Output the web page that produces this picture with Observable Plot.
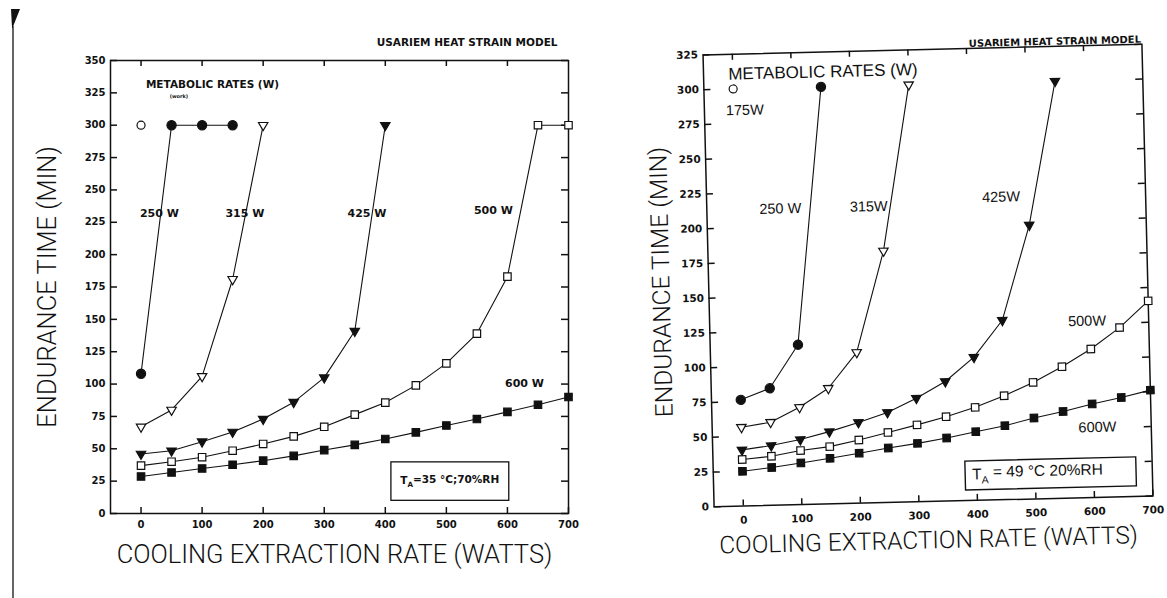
<!DOCTYPE html>
<html>
<head>
<meta charset="utf-8">
<script src="https://cdn.jsdelivr.net/npm/d3@7"></script>
<script src="https://cdn.jsdelivr.net/npm/@observablehq/plot@0.6"></script>
<style>
  html, body { margin: 0; padding: 0; background: #fff; }
  #wrap { position: relative; width: 1167px; height: 598px; overflow: hidden; background: #fff; }
  #left, #right { position: absolute; top: 0; }
  #left { left: 0; }
  #right { left: 590px; transform: rotate(-1.4deg); transform-origin: 338px 275px; }
  #edge { position: absolute; left: 12px; top: 26px; width: 1.5px; height: 572px; background: #666; }
  #wedge { position: absolute; left: 11px; top: 9px; width: 9px; height: 20px; background: #111;
           clip-path: polygon(0 0, 100% 0, 12% 100%); }
</style>
</head>
<body>
<div id="wrap">
  <div id="edge"></div><div id="wedge"></div>
  <div id="left"></div>
  <div id="right"></div>
</div>
<script>
// ---------------- DATA ----------------
const xCooling = [0, 50, 100, 150, 200, 250, 300, 350, 400, 450, 500, 550, 600, 650, 700];
const xTicks = [0, 100, 200, 300, 400, 500, 600, 700];
const xTopTicks = [0, 100, 200, 300, 400, 500, 600];
const yTicksLeft = [0, 25, 50, 75, 100, 125, 150, 175, 200, 225, 250, 275, 300, 325, 350];
const yTicksRight = [0, 25, 50, 75, 100, 125, 150, 175, 200, 225, 250, 275, 300, 325];

// Left panel: T_A = 35 °C; 70 %RH  (endurance time, min)
const left175x = [0];
const left175y = [300];
const left250x = [0, 50, 100, 150];
const left250y = [108, 300, 300, 300];
const left315x = [0, 50, 100, 150, 200];
const left315y = [67, 80, 106, 181, 300];
const left425x = [0, 50, 100, 150, 200, 250, 300, 350, 400];
const left425y = [46, 48.5, 55.5, 63, 73, 86, 105, 141, 300];
const left500x = xCooling;
const left500y = [37, 40, 43.5, 48.5, 53.7, 59.6, 67, 76.4, 85.7, 99, 116, 139, 183, 300, 300];
const left600x = xCooling;
const left600y = [28.6, 31.7, 34.8, 37.7, 40.8, 44.5, 49, 53, 57.6, 62.7, 68, 73, 78.5, 84, 90];

// Right panel: T_A = 49 °C 20 %RH
const right175x = [0];
const right175y = [300];
const right250x = [0, 50, 100, 150];
const right250y = [76.4, 84.2, 115, 300];
const right315x = [0, 50, 100, 150, 200, 250, 300];
const right315y = [56.7, 59.8, 70, 83.2, 108.5, 181, 300];
const right425x = [0, 50, 100, 150, 200, 250, 300, 350, 400, 450, 500, 550];
const right425y = [40.4, 43, 46.8, 52, 58.1, 64.8, 74.5, 86, 103, 129, 197, 300];
const right500x = xCooling;
const right500y = [33.5, 35.3, 38.9, 41.2, 45.5, 50.4, 55.3, 60.7, 66.9, 74.7, 83.8, 94.6, 106.8, 121.7, 140.4];
const right600x = xCooling;
const right600y = [25.0, 27.2, 30.0, 32.8, 36.0, 39.2, 42, 45.4, 49.4, 53.2, 58.2, 62.4, 67.3, 71.4, 76.2];

// Texts
const yTitle = "ENDURANCE TIME (MIN)";
const xTitle = "COOLING EXTRACTION RATE (WATTS)";
const modelTitle = "USARIEM HEAT STRAIN MODEL";
const legendTitle = "METABOLIC RATES (W)";
const leftSeriesLabels = ["250 W", "315 W", "425 W", "500 W", "600 W"];
const rightSeriesLabels = ["175W", "250 W", "315W", "425W", "500W", "600W"];
const leftCondition = ["T", "A", "=35 °C;70%RH"];
const rightCondition = ["T", "A", " = 49 °C 20%RH"];

// Annotation anchors (data units)
const leftLabelX = [30, 170, 370, 577, 628];
const leftLabelY = [232, 232, 232, 234, 100.6];
const rightLabelX = [19, 75.5, 226.6, 453, 594.7, 608];
const rightLabelY = [284.5, 213, 213, 217.6, 126.9, 50.4];
const leftBox = {x1: 410, x2: 603, y1: 9.8, y2: 39.5, tx: 424.6, ty: 25.3};
const rightBox = {x1: 381, x2: 673, y1: 7.3, y2: 28.1, tx: 392, ty: 18.6};
const leftHead = {legendX: 117, legendY: 331.6, workX: 62, workY: 322, modelX: 682, modelY: 363.5};
const rightHead = {legendX: 154, legendY: 310.7, modelX: 698.5, modelY: 328.4};

// ---------------- DRAWING ----------------
const INK = "#111";
const X_DOMAIN = [-50, 700];
const styles = {
  s175: {symbol: "circle", filled: false, down: false, r: 4},
  s250: {symbol: "circle", filled: true, down: false, r: 4.6},
  s315: {symbol: "triangle", filled: false, down: true, r: 3.5},
  s425: {symbol: "triangle", filled: true, down: true, r: 3.5},
  s500: {symbol: "square", filled: false, down: false, r: 4.2},
  s600: {symbol: "square", filled: true, down: false, r: 4.2}
};

function series(xs, ys, st) {
  const data = xs.map((x, i) => ({x, y: ys[i]}));
  const m = [];
  if (data.length > 1) m.push(Plot.line(data, {x: "x", y: "y", stroke: INK, strokeWidth: 1.1}));
  m.push(Plot.dot(data, {
    x: "x", y: "y", symbol: st.symbol, r: st.r,
    fill: st.filled ? INK : "white", stroke: INK, strokeWidth: 1.2,
    rotate: st.down ? 180 : 0
  }));
  return m;
}

function subscriptFix(svg, parts) {
  d3.select(svg).selectAll("text").filter(function () {
    return this.textContent === parts.join("");
  }).each(function () {
    const t = d3.select(this);
    t.text("");
    t.append("tspan").text(parts[0]);
    t.append("tspan").attr("font-size", "68%").attr("dy", "0.4em").text(parts[1]);
    t.append("tspan").attr("dy", "-0.4em").text(parts[2]);
  });
}

// inward tick marks on all four sides: rules whose length (px) is converted to data units
function inwardTicks(yTicks, yDomain, plotW, plotH) {
  const tk = {stroke: INK, strokeWidth: 1.5};
  const [x0, x1] = X_DOMAIN, [y0, y1] = yDomain;
  const lx = 7 * (x1 - x0) / plotW;   // 7 px along x
  const ly = 6 * (y1 - y0) / plotH;   // 6 px along y
  return [
    Plot.ruleY(yTicks, {y: d => d, x1: x0, x2: x0 + lx, ...tk}),
    Plot.ruleY(yTicks, {y: d => d, x1: x1 - lx, x2: x1, ...tk}),
    Plot.ruleX(xTicks, {x: d => d, y1: y0, y2: y0 + ly, ...tk}),
    Plot.ruleX(xTopTicks, {x: d => d, y1: y1 - ly, y2: y1, ...tk})
  ];
}

const boldSmall = {fontFamily: "DejaVu Sans", fontWeight: "bold"};
const titleFont = {fontFamily: "Roboto, 'Liberation Sans', sans-serif", fontWeight: 300, fill: INK};

// ---- Left panel
const L = {width: 590, height: 598, marginLeft: 110, marginRight: 22, marginTop: 60, marginBottom: 85};
const leftW = L.width - L.marginLeft - L.marginRight;
const leftH = L.height - L.marginTop - L.marginBottom;
const leftYDomain = [0, 350];
const leftSeries = [
  [left175x, left175y, styles.s175], [left250x, left250y, styles.s250],
  [left315x, left315y, styles.s315], [left425x, left425y, styles.s425],
  [left500x, left500y, styles.s500], [left600x, left600y, styles.s600]
];
const leftLabelData = leftSeriesLabels.map((t, i) => ({t, x: leftLabelX[i], y: leftLabelY[i]}));

const leftPlot = Plot.plot({
  ...L,
  x: {domain: X_DOMAIN},
  y: {domain: leftYDomain},
  style: {background: "transparent", color: INK, overflow: "visible"},
  marks: [
    ...inwardTicks(yTicksLeft, leftYDomain, leftW, leftH),
    Plot.frame({stroke: INK, strokeWidth: 1.5}),
    Plot.axisY(yTicksLeft, {anchor: "left", tickSize: 0, tickPadding: 5, fontSize: 10, ...boldSmall, label: null}),
    Plot.axisX(xTicks, {anchor: "bottom", tickSize: 0, tickPadding: 7, fontSize: 10, ...boldSmall, label: null}),
    ...leftSeries.flatMap(([xs, ys, st]) => series(xs, ys, st)),
    Plot.text(leftLabelData, {x: "x", y: "y", text: "t", fontSize: 11, ...boldSmall, fill: INK}),
    Plot.text([legendTitle], {x: leftHead.legendX, y: leftHead.legendY, text: d => d, fontSize: 10.5, ...boldSmall, fill: INK}),
    Plot.text(["(work)"], {x: leftHead.workX, y: leftHead.workY, text: d => d, fontSize: 5, ...boldSmall, fill: INK}),
    Plot.text([modelTitle], {x: leftHead.modelX, y: leftHead.modelY, text: d => d, textAnchor: "end", fontSize: 10.5, ...boldSmall, fill: INK}),
    Plot.rect([leftBox], {x1: "x1", x2: "x2", y1: "y1", y2: "y2", fill: "white", stroke: INK, strokeWidth: 1.3}),
    Plot.text([leftCondition.join("")], {x: leftBox.tx, y: leftBox.ty, text: d => d, textAnchor: "start", fontSize: 10.5, ...boldSmall, fill: INK}),
    Plot.text([yTitle], {frameAnchor: "left", dx: -63, rotate: -90, textAnchor: "middle", lineAnchor: "middle", text: d => d, fontSize: 25.5, ...titleFont}),
    Plot.text([xTitle], {frameAnchor: "bottom", dx: -5, dy: 41, textAnchor: "middle", lineAnchor: "middle", text: d => d, fontSize: 25.5, ...titleFont})
  ]
});
subscriptFix(leftPlot, leftCondition);
document.getElementById("left").append(leftPlot);

// ---- Right panel
const R = {width: 577, height: 598, marginLeft: 118, marginRight: 20, marginTop: 49, marginBottom: 97};
const rightW = R.width - R.marginLeft - R.marginRight;
const rightH = R.height - R.marginTop - R.marginBottom;
const rightYDomain = [0, 325];
const rightSeries = [
  [right175x, right175y, styles.s175], [right250x, right250y, styles.s250],
  [right315x, right315y, styles.s315], [right425x, right425y, styles.s425],
  [right500x, right500y, styles.s500], [right600x, right600y, styles.s600]
];
const rightLabelData = rightSeriesLabels.map((t, i) => ({t, x: rightLabelX[i], y: rightLabelY[i]}));
const regFont = {fontFamily: "'Liberation Sans', Arial, sans-serif", fontWeight: "normal"};

const rightPlot = Plot.plot({
  ...R,
  x: {domain: X_DOMAIN},
  y: {domain: rightYDomain},
  style: {background: "transparent", color: INK, overflow: "visible"},
  marks: [
    ...inwardTicks(yTicksRight, rightYDomain, rightW, rightH),
    Plot.frame({stroke: INK, strokeWidth: 1.5}),
    Plot.axisY(yTicksRight, {anchor: "left", tickSize: 0, tickPadding: 5, fontSize: 10.5, ...boldSmall, label: null}),
    Plot.axisX(xTicks, {anchor: "bottom", tickSize: 0, tickPadding: 10, fontSize: 10.5, ...boldSmall, label: null}),
    ...rightSeries.flatMap(([xs, ys, st]) => series(xs, ys, st)),
    Plot.text(rightLabelData, {x: "x", y: "y", text: "t", fontSize: 14.5, ...regFont, fill: INK}),
    Plot.text([legendTitle], {x: rightHead.legendX, y: rightHead.legendY, text: d => d, fontSize: 17, ...regFont, fill: INK}),
    Plot.text([modelTitle], {x: rightHead.modelX, y: rightHead.modelY, text: d => d, textAnchor: "end", fontSize: 10, ...boldSmall, fill: INK}),
    Plot.rect([rightBox], {x1: "x1", x2: "x2", y1: "y1", y2: "y2", fill: "white", stroke: INK, strokeWidth: 1.4}),
    Plot.text([rightCondition.join("")], {x: rightBox.tx, y: rightBox.ty, text: d => d, textAnchor: "start", fontSize: 15.5, ...regFont, fill: INK}),
    Plot.text([yTitle], {frameAnchor: "left", dx: -47, rotate: -90, textAnchor: "middle", lineAnchor: "middle", text: d => d, fontSize: 24.5, ...titleFont}),
    Plot.text([xTitle], {frameAnchor: "bottom", dx: -6, dy: 39, textAnchor: "middle", lineAnchor: "middle", text: d => d, fontSize: 24.5, ...titleFont})
  ]
});
subscriptFix(rightPlot, rightCondition);
document.getElementById("right").append(rightPlot);
</script>
</body>
</html>
